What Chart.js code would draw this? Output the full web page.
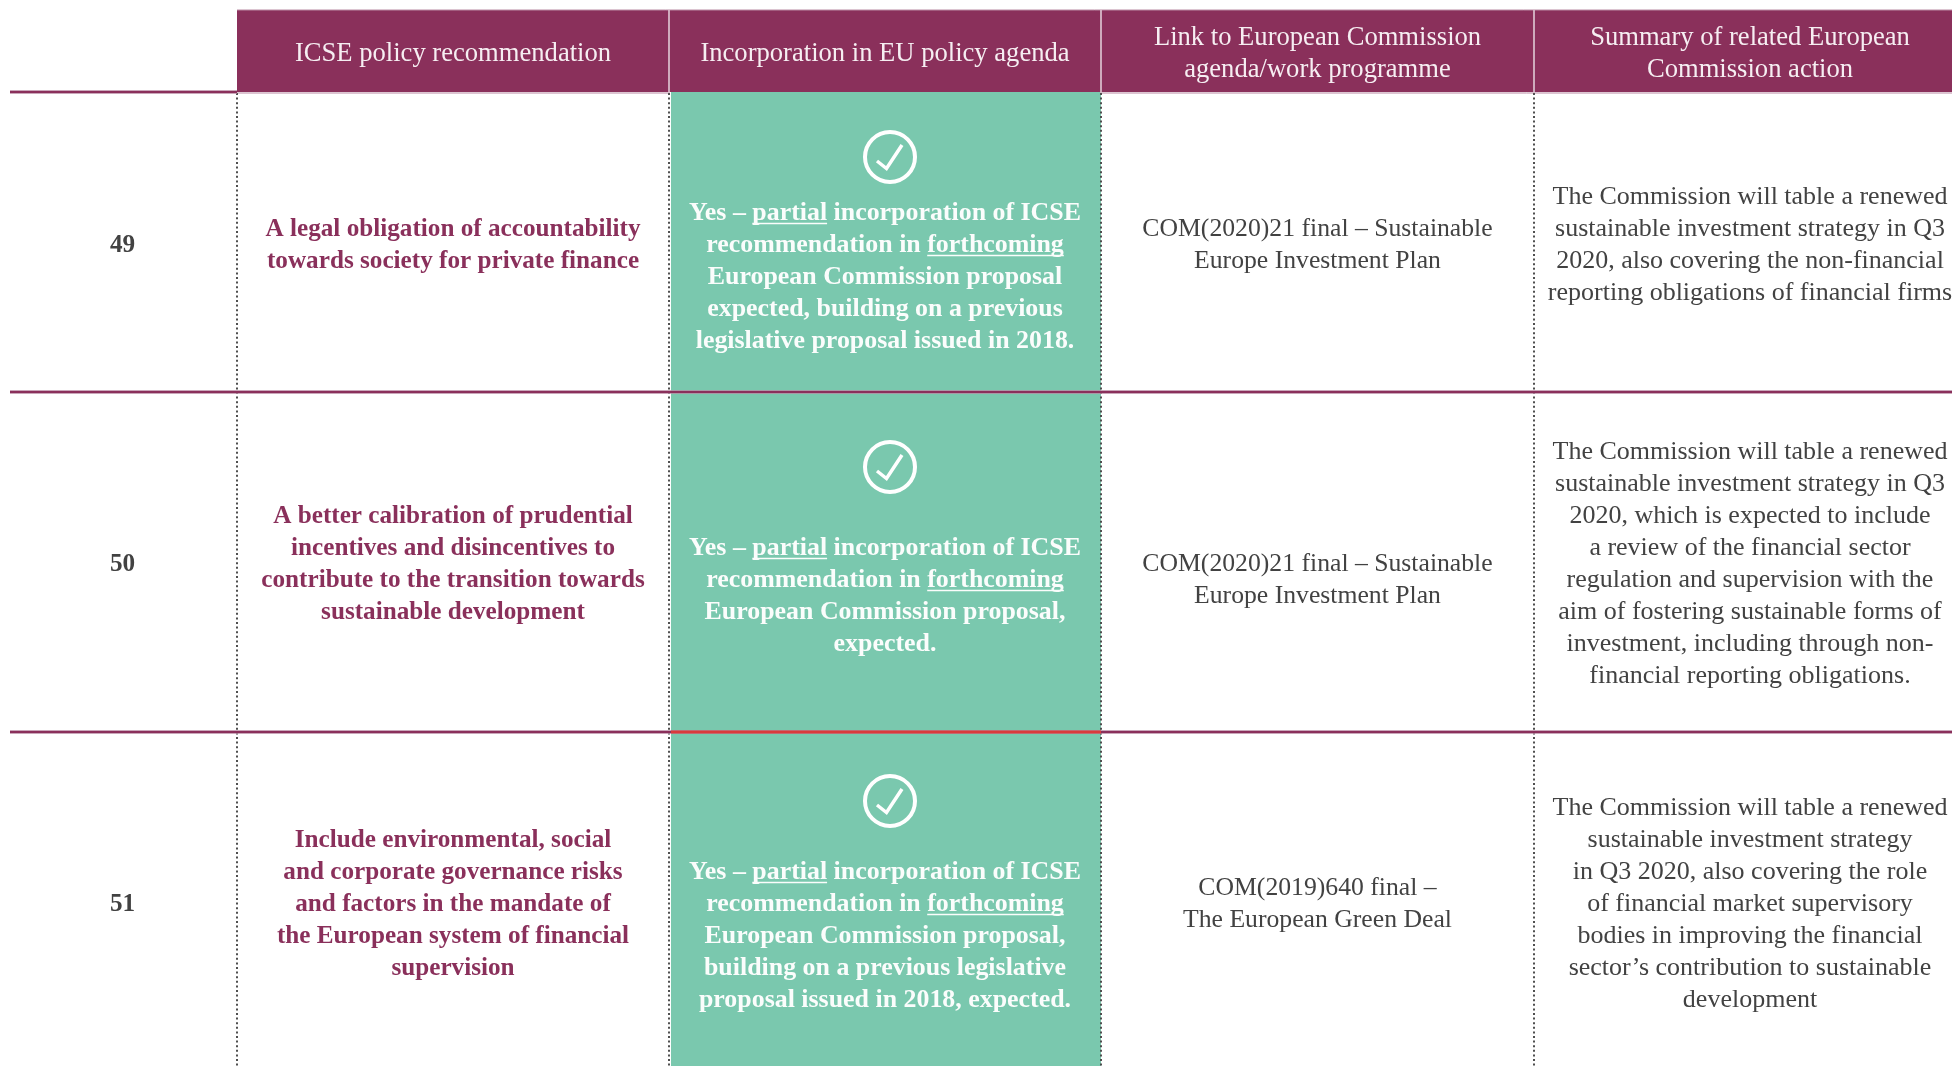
<!DOCTYPE html>
<html><head><meta charset="utf-8">
<style>html,body{margin:0;padding:0;background:#fff;overflow:hidden}canvas{display:block}</style>
<script src="https://cdn.jsdelivr.net/npm/chart.js@4/dist/chart.umd.min.js"></script>
</head><body><canvas id="c" width="1952" height="1066"></canvas>
<script>
// ---- table content ----
const headers = [
  ["ICSE policy recommendation"],
  ["Incorporation in EU policy agenda"],
  ["Link to European Commission","agenda/work programme"],
  ["Summary of related European","Commission action"]
];
const rowLabels = ["49","50","51"];
const recommendations = [
  ["A legal obligation of accountability","towards society for private finance"],
  ["A better calibration of prudential","incentives and disincentives to","contribute to the transition towards","sustainable development"],
  ["Include environmental, social","and corporate governance risks","and factors in the mandate of","the European system of financial","supervision"]
];
const incorporation = [
  ["Yes – _partial_ incorporation of ICSE","recommendation in _forthcoming_","European Commission proposal","expected, building on a previous","legislative proposal issued in 2018."],
  ["Yes – _partial_ incorporation of ICSE","recommendation in _forthcoming_","European Commission proposal,","expected."],
  ["Yes – _partial_ incorporation of ICSE","recommendation in _forthcoming_","European Commission proposal,","building on a previous legislative","proposal issued in 2018, expected."]
];
const links = [
  ["COM(2020)21 final – Sustainable","Europe Investment Plan"],
  ["COM(2020)21 final – Sustainable","Europe Investment Plan"],
  ["COM(2019)640 final –","The European Green Deal"]
];
const summaries = [
  ["The Commission will table a renewed","sustainable investment strategy in Q3","2020, also covering the non-financial","reporting obligations of financial firms"],
  ["The Commission will table a renewed","sustainable investment strategy in Q3","2020, which is expected to include","a review of the financial sector","regulation and supervision with the","aim of fostering sustainable forms of","investment, including through non-","financial reporting obligations."],
  ["The Commission will table a renewed","sustainable investment strategy","in Q3 2020, also covering the role","of financial market supervisory","bodies in improving the financial","sector’s contribution to sustainable","development"]
];
// ---- grid (scale units = reference pixels) ----
const columnEdges = [237, 669, 1101, 1534];
const tableEnd = 1952;
const ruleStart = 10;
const headerTop = 10, headerBottom = 93;
const rowRules = [92, 392, 732];
const labelCentre = 122.5;
const columnCentres = [453, 885, 1317.5, 1750];
const headerBaselines = [[61],[61],[45,77],[45,77]];
const labelBaselines = [252, 571, 911];
const recBaselines = [236, 523, 847];
const incBaselines = [220, 555, 879];
const linkBaselines = [236, 571, 895];
const sumBaselines = [204, 459, 815];
const tickCentresY = [157, 467, 801];
const tickCentreX = 890;
const lineStep = 32;

const PLUM="#8a305b", GREEN="#7ac8ae", GREY="#424242", RED="#d93a3c", PALE="#b98aa3";
const FONT='"Liberation Serif"';

const band=(x0,x1,y0,y1,color,layer)=>({type:'line',data:[{x:x0,y:y0},{x:x1,y:y0}],borderWidth:0,borderColor:'transparent',pointRadius:0,fill:{value:y1},backgroundColor:color,order:-layer});
const seg=(pts,color,w,layer,dash)=>({type:'line',data:pts,borderColor:color,borderWidth:w,pointRadius:0,fill:false,borderDash:dash||[],order:-layer,tension:0});

const datasets=[];
datasets.push(band(columnEdges[1]+2,columnEdges[2],headerBottom-1,1066,GREEN,1));
datasets.push(band(columnEdges[0],tableEnd,headerTop,headerBottom-1,PLUM,2));
datasets.push(seg([{x:columnEdges[0],y:headerTop},{x:tableEnd,y:headerTop}],PALE,1,3));
datasets.push(seg([{x:columnEdges[0],y:headerBottom},{x:columnEdges[1],y:headerBottom}],PALE,1,3));
datasets.push(seg([{x:columnEdges[2],y:headerBottom},{x:tableEnd,y:headerBottom}],PALE,1,3));
columnEdges.slice(1).forEach(x=>datasets.push(seg([{x,y:headerTop},{x,y:headerBottom}],"#d8bccb",1,4)));
columnEdges.forEach(x=>datasets.push(seg([{x,y:headerBottom},{x,y:1066}],"#4f4f4f",2,5,[2,2.6])));
datasets.push(seg([{x:ruleStart,y:rowRules[0]},{x:columnEdges[0],y:rowRules[0]}],PALE,3.5,6));
datasets.push(seg([{x:ruleStart,y:rowRules[0]},{x:columnEdges[0],y:rowRules[0]}],PLUM,2,7));
rowRules.slice(1).forEach(y=>{
  datasets.push(seg([{x:ruleStart,y},{x:tableEnd,y}],PALE,3.5,6));
  datasets.push(seg([{x:ruleStart,y},{x:tableEnd,y}],PLUM,2,7));
});
datasets.push(seg([{x:columnEdges[1]+2,y:rowRules[2]},{x:columnEdges[2],y:rowRules[2]}],RED,3,8));
// tick rings and check marks
datasets.push({type:'line',data:tickCentresY.map(y=>({x:tickCentreX,y})),showLine:false,pointStyle:'circle',pointRadius:25,pointBorderWidth:4,pointBackgroundColor:'rgba(0,0,0,0)',pointBorderColor:'#fff',order:-9});
const checkDx=[-13,-3.5,12], checkDy=[4,11.5,-12];
tickCentresY.forEach(y=>datasets.push(seg(checkDx.map((d,i)=>({x:tickCentreX+d,y:y+checkDy[i]})),'#fff',3.5,9)));

const textPlugin={id:'tableText',afterDatasetsDraw(chart){
  const {ctx,scales:{x:X,y:Y}}=chart;
  const block=(lines,cx,y0,font,color)=>{
    lines.forEach((line,i)=>{
      ctx.save();
      ctx.font=font;ctx.fillStyle=color;ctx.strokeStyle=color;ctx.textBaseline='alphabetic';ctx.textAlign='left';
      const parts=line.split('_');
      const plain=parts.join('');
      const w=ctx.measureText(plain).width;
      let px=X.getPixelForValue(cx)-w/2;
      const py=Y.getPixelForValue(y0+i*lineStep);
      parts.forEach((p,k)=>{
        if(!p)return;
        ctx.fillText(p,px,py);
        const pw=ctx.measureText(p).width;
        if(k%2===1){ctx.lineWidth=1.5;ctx.beginPath();ctx.moveTo(px,py+3.5);ctx.lineTo(px+pw,py+3.5);ctx.stroke();}
        px+=pw;
      });
      ctx.restore();
    });
  };
  const hf=`26.6px ${FONT}`, bf=`bold 25.2px ${FONT}`, gf=`bold 25.9px ${FONT}`, lf=`25.7px ${FONT}`, sf=`26px ${FONT}`;
  headers.forEach((h,c)=>block(h,columnCentres[c],headerBaselines[c][0],hf,"#f6eef2"));
  rowLabels.forEach((l,r)=>{
    block([l],labelCentre,labelBaselines[r],bf,GREY);
    block(recommendations[r],columnCentres[0],recBaselines[r],bf,PLUM);
    block(incorporation[r],columnCentres[1],incBaselines[r],gf,"#fbfdfc");
    block(links[r],columnCentres[2],linkBaselines[r],lf,GREY);
    block(summaries[r],columnCentres[3],sumBaselines[r],sf,GREY);
  });
}};

new Chart(document.getElementById('c'),{
  data:{datasets},
  plugins:[textPlugin],
  options:{
    responsive:false,animation:false,
    layout:{padding:0,autoPadding:false},
    scales:{
      x:{type:'linear',min:0,max:1952,display:false},
      y:{type:'linear',min:0,max:1066,reverse:true,display:false}
    },
    plugins:{legend:{display:false},tooltip:{enabled:false}}
  }
});
</script></body></html>
